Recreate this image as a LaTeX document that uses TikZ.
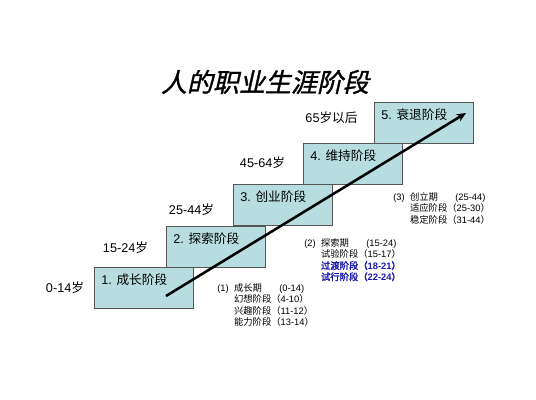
\documentclass[tikz,border=0pt]{standalone}
\usepackage{fontspec}
\setmainfont{Liberation Sans}
\newfontfamily\cjk{Noto Sans CJK SC}
\newfontfamily\cjkbold[FakeBold=2]{Noto Sans CJK SC}
\newfontfamily\cjktitle[FakeSlant=0.22,FakeBold=1.2]{Noto Sans CJK SC}
\newcommand{\zh}[1]{{\cjk #1}}
\newcommand{\zhb}[1]{{\cjkbold #1}}
\usetikzlibrary{arrows.meta,positioning}
\definecolor{stagefill}{RGB}{183,221,224}
\definecolor{stageline}{RGB}{85,85,85}
\definecolor{noteblue}{RGB}{25,25,175}
\tikzset{
        % Stage boxes of the staircase
        stagebox/.style={rectangle, draw=stageline, fill=stagefill, line width=0.7pt, anchor=north west, minimum width=74.25pt, minimum height=30.75pt, inner sep=0pt},
        % Stage names, top left in each box
        stagetext/.style={anchor=north west, inner xsep=5.25pt, inner ysep=5pt, font=\fontsize{9.5}{11}\selectfont},
        % Age ranges left of the boxes
        agetext/.style={inner sep=0pt, font=\fontsize{9.5}{11}\selectfont},
        % Notes under the staircase
        notetext/.style={anchor=base west, inner sep=0pt, font=\fontsize{7}{8.25}\selectfont},
        % Title
        titletext/.style={inner sep=0pt, font=\cjktitle\fontsize{19.5}{22}\selectfont}
}
\begin{document}
\begin{tikzpicture}[x=0.75pt, y=-0.75pt]
            \useasboundingbox (0,0) rectangle (536,400);
            \node[titletext] (title) at (265,82) {人的职业生涯阶段};
            % staircase, lowest step first
            \node[stagebox] (s1) at (94,267) {};
            \node[stagetext] (t1) at (s1.north west) {1. \zh{成长阶段}};
            \node[stagebox] (s2) at (166,226) {};
            \node[stagetext] (t2) at (s2.north west) {2. \zh{探索阶段}};
            \node[stagebox] (s3) at (233,184) {};
            \node[stagetext] (t3) at (s3.north west) {3. \zh{创业阶段}};
            \node[stagebox] (s4) at (303,143) {};
            \node[stagetext] (t4) at (s4.north west) {4. \zh{维持阶段}};
            \node[stagebox] (s5) at (374,102) {};
            \node[stagetext] (t5) at (s5.north west) {5. \zh{衰退阶段}};
            % ages
            \node[agetext] (a1) at (65,288) {0-14\zh{岁}};
            \node[agetext] (a2) at (125.5,248) {15-24\zh{岁}};
            \node[agetext] (a3) at (191.5,210) {25-44\zh{岁}};
            \node[agetext] (a4) at (262.5,163) {45-64\zh{岁}};
            \node[agetext] (a5) at (331.5,118) {65\zh{岁以后}};
            % rising arrow
            \coordinate (start) at (166,296);
            \coordinate (finish) at (466,113);
            \draw[-{Stealth[length=7pt,width=6pt]}, line width=1.9pt] (start) -- (finish);
            % notes
            \node[notetext] (n1) at (217,291.5) {\begin{tabular}[t]{@{}l@{\hspace{4pt}}l@{}l@{}}
                (1) & \zh{成长期} & \hspace{6pt}(0-14)\\
                    & \zh{幻想阶段} & \zh{（}4-10\zh{）}\\
                    & \zh{兴趣阶段} & \zh{（}11-12\zh{）}\\
                    & \zh{能力阶段} & \zh{（}13-14\zh{）}
            \end{tabular}};
            \node[notetext] (n2) at (304,246.5) {\begin{tabular}[t]{@{}l@{\hspace{4pt}}l@{}l@{}}
                (2) & \zh{探索期} & \hspace{6pt}(15-24)\\
                    & \zh{试验阶段} & \zh{（}15-17\zh{）}\\
                    & \color{noteblue}\zhb{过渡阶段} & \color{noteblue}\zhb{（}\textbf{18-21}\zhb{）}\\
                    & \color{noteblue}\zhb{试行阶段} & \color{noteblue}\zhb{（}\textbf{22-24}\zhb{）}
            \end{tabular}};
            \node[notetext] (n3) at (393,200.5) {\begin{tabular}[t]{@{}l@{\hspace{4pt}}l@{}l@{}}
                (3) & \zh{创立期} & \hspace{6pt}(25-44)\\
                    & \zh{适应阶段} & \zh{（}25-30\zh{）}\\
                    & \zh{稳定阶段} & \zh{（}31-44\zh{）}
            \end{tabular}};
\end{tikzpicture}
\end{document}
